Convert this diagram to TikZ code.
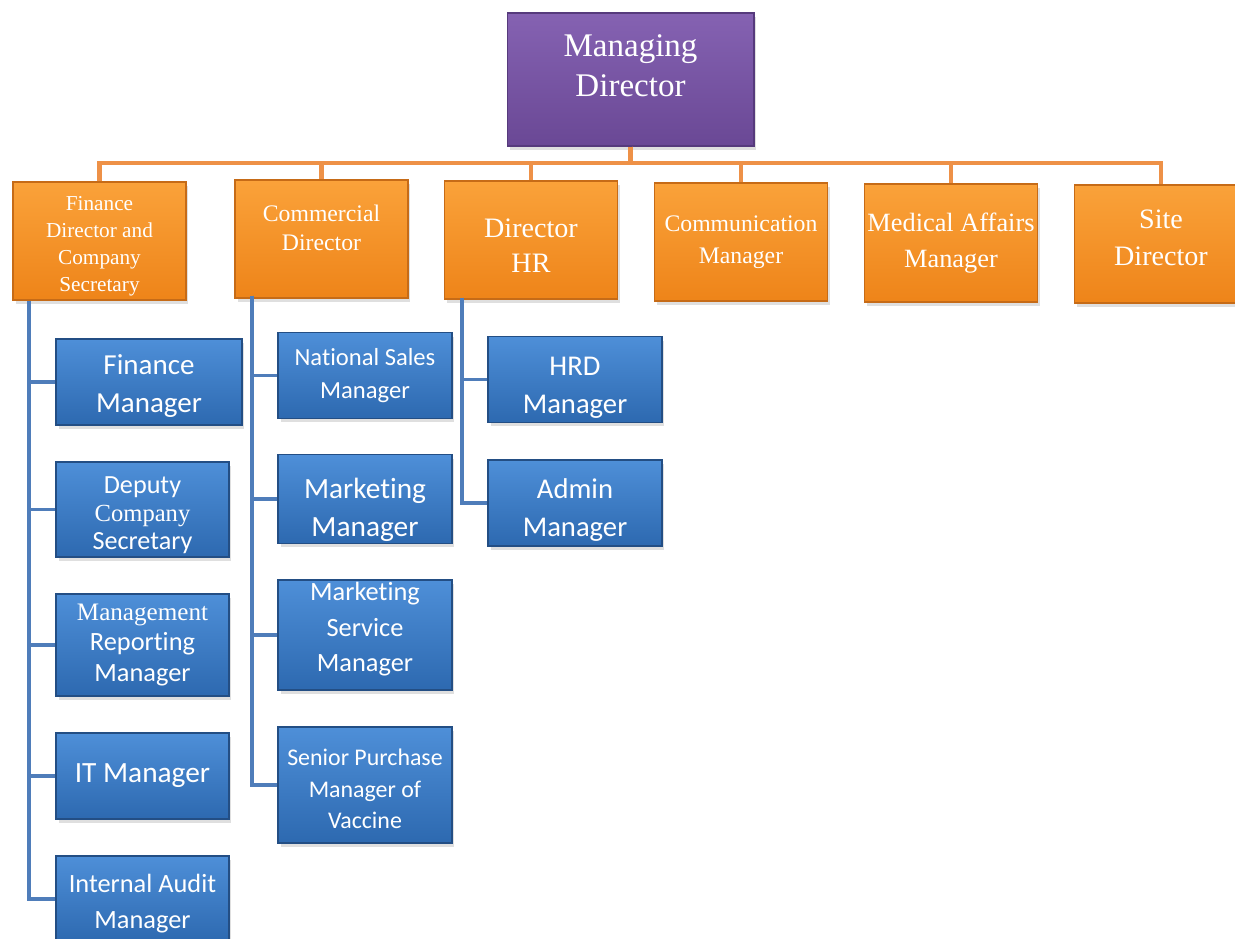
\documentclass[tikz,border=0pt]{standalone}
\usepackage{fontspec}
\setmainfont{Liberation Serif}
\newfontfamily\SANS[Ligatures=NoCommon]{Carlito}
\usetikzlibrary{shadows}

\newcommand{\FS}[2]{\fontsize{#1}{#2}\selectfont}
\newcommand{\SERIF}{\rmfamily}
\newcommand{\TOP}[1]{\rule{0pt}{#1}}

\definecolor{mdtop}{HTML}{8562B2}
\definecolor{mdbot}{HTML}{6A4895}
\definecolor{mdedge}{HTML}{563A7C}
\definecolor{ortop}{HTML}{FAA23A}
\definecolor{orbot}{HTML}{EE8419}
\definecolor{oredge}{HTML}{C66B17}
\definecolor{bltop}{HTML}{4E8FD8}
\definecolor{blbot}{HTML}{2D69B0}
\definecolor{bledge}{HTML}{234E84}
\definecolor{orline}{HTML}{EE9147}
\definecolor{blline}{HTML}{4F7DBA}

\tikzset{
	box/.style={rectangle, draw, line width=0.6pt, text=white, align=center,
		inner sep=1pt, drop shadow={shadow xshift=0.05cm, shadow yshift=-0.08cm, opacity=0.25}},
	mdbox/.style={box, draw=mdedge, top color=mdtop, bottom color=mdbot,
		minimum width=4.94cm, minimum height=2.66cm, font=\SERIF\FS{18.8}{22.8}},
	orbox/.style={box, draw=oredge, top color=ortop, bottom color=orbot,
		minimum width=3.46cm, minimum height=2.36cm},
	blbox/.style={box, draw=bledge, top color=bltop, bottom color=blbot,
		minimum width=3.46cm, minimum height=1.72cm},
	oline/.style={draw=orline, line width=2.8pt},
	bline/.style={draw=blline, line width=2.2pt},
}

\begin{document}
\begin{tikzpicture}[x=0.02cm, y=-0.02cm]
		\useasboundingbox (0, 0) rectangle (1235, 939);

		% top level
		\node[mdbox] (md) at (630.5, 79.5) {Managing\\Director\\[-0.24cm]};
		\coordinate (bar) at (0, 163);

		% directors
		\node[orbox, font=\SERIF\FS{12.1}{15.4}] (fd) at (99.5, 241) {\TOP{0.5cm}Finance\\Director and\\Company\\Secretary};
		\node[orbox, font=\SERIF\FS{13.5}{16.5}] (cd) at (321.5, 239) {Commercial\\Director\\[-0.14cm]};
		\node[orbox, font=\SERIF\FS{16}{20}] (hr) at (531, 240) {\TOP{0.6cm}Director\\HR};
		\node[orbox, font=\SERIF\FS{13.5}{18.2}] (cm) at (741, 242) {Communication\\Manager};
		\node[orbox, font=\SERIF\FS{15}{20}] (ma) at (951, 243) {Medical Affairs\\Manager};
		\node[orbox, font=\SERIF\FS{16}{21}] (sd) at (1161, 244) {Site\\Director\\[-0.5cm]};

		% finance
		\node[blbox, minimum width=3.72cm, font=\SANS\FS{16.5}{21.6}] (fm) at (149, 382) {\TOP{0.56cm}Finance\\Manager};
		\node[blbox, minimum height=1.9cm, font=\SANS\FS{14.9}{16}] (dcs) at (142.5, 509.5) {\TOP{0.56cm}Deputy\\{\SERIF\FS{14}{16}Company}\\Secretary};
		\node[blbox, minimum height=2.04cm, font=\SANS\FS{15}{17.6}] (mrm) at (142.5, 645) {{\SERIF\FS{14.3}{17.6}Management}\\Reporting\\Manager};
		\node[blbox, font=\SANS\FS{16.7}{21}] (itm) at (142.5, 776) {IT Manager};
		\node[blbox, font=\SANS\FS{15}{20.5}] (iam) at (142.5, 899) {\TOP{0.56cm}Internal Audit\\Manager};

		% commercial
		\node[blbox, minimum width=3.48cm, font=\SANS\FS{14}{18.8}] (nsm) at (365, 375.5) {National Sales\\Manager};
		\node[blbox, minimum width=3.48cm, font=\SANS\FS{16.7}{21.6}] (mm) at (365, 499) {\TOP{0.84cm}Marketing\\Manager};
		\node[blbox, minimum width=3.48cm, minimum height=2.2cm, font=\SANS\FS{15}{20}] (msm) at (365, 635) {Marketing\\Service\\Manager\\[-0.38cm]};
		\node[blbox, minimum width=3.48cm, minimum height=2.32cm, font=\SANS\FS{13.6}{17.9}] (spm) at (365, 785) {\TOP{0.5cm}Senior Purchase\\Manager of\\Vaccine};

		% HR
		\node[blbox, minimum width=3.48cm, font=\SANS\FS{16.3}{21.6}] (hrd) at (575, 379.5) {\TOP{0.68cm}HRD\\Manager};
		\node[blbox, minimum width=3.48cm, font=\SANS\FS{16.3}{21.6}] (am) at (575, 503) {\TOP{0.68cm}Admin\\Manager};

		% spines
		\coordinate (fdsp) at (29, 301);
		\coordinate (cdsp) at (252, 296);
		\coordinate (hrsp) at (462, 298);

		\foreach \n in {fd, cd, hr, cm, ma, sd}
			\draw[oline] (md.south) -- (md.south |- bar) -| (\n.north);
		\foreach \n in {fm, dcs, mrm, itm, iam}
			\draw[bline] (fdsp) |- (\n.west);
		\foreach \n in {nsm, mm, msm, spm}
			\draw[bline] (cdsp) |- (\n.west);
		\foreach \n in {hrd, am}
			\draw[bline] (hrsp) |- (\n.west);
	\end{tikzpicture}
\end{document}
